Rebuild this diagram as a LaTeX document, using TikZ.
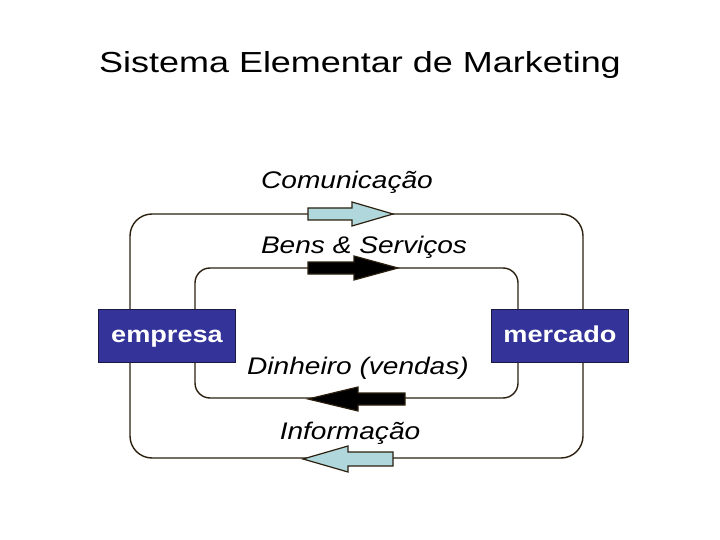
\documentclass[tikz,border=0pt]{standalone}
\usepackage{fontspec}
\setmainfont{Liberation Sans}
\newcommand{\hstretch}[2]{\scalebox{#1}[1]{#2}}
\begin{document}
\begin{tikzpicture}[x=1pt,y=-1pt,
  loop/.style={draw=linec,line width=1.4pt,rounded corners=#1},
  box/.style={draw=boxline,line width=1.2pt,fill=boxblue,text=white,font=\fontsize{23}{26}\selectfont\bfseries,minimum width=137pt,minimum height=53pt,inner sep=0pt,text height=17pt,text depth=5pt},
  lbl/.style={font=\fontsize{24}{28}\selectfont\itshape,inner sep=0pt},
  flowarrow/.style={draw=linec,line width=1.2pt,fill=#1,line join=miter}]
\definecolor{linec}{HTML}{2B2010}
\definecolor{boxblue}{HTML}{333399}
\definecolor{boxline}{HTML}{1A1A40}
\definecolor{lightblue}{HTML}{B0D8DC}
\useasboundingbox (0,0) rectangle (720,540);
\node[font=\fontsize{29}{34}\selectfont] (title) at (360,65) {\hstretch{1.24}{Sistema Elementar de Marketing}};
% loops
\draw[loop=22pt] (130,214) rectangle (583,458);
\draw[loop=15pt] (195,268) rectangle (518,398);
% boxes
\node[box] (emp) at (167,336) {\hstretch{1.18}{empresa}};
\node[box] (mer) at (560,336) {\hstretch{1.18}{mercado}};
% arrows
\filldraw[flowarrow=lightblue] (308,208) -- (352,208) -- (352,202) -- (393,214) -- (352,226) -- (352,220) -- (308,220) -- cycle;
\filldraw[flowarrow=black] (308,262) -- (354,262) -- (354,256) -- (398,268) -- (354,280) -- (354,274) -- (308,274) -- cycle;
\filldraw[flowarrow=black] (405,393) -- (358,393) -- (358,387) -- (308,399) -- (358,411) -- (358,405) -- (405,405) -- cycle;
\filldraw[flowarrow=lightblue] (393,452) -- (348,452) -- (348,446) -- (303,459) -- (348,472) -- (348,466) -- (393,466) -- cycle;
% labels
\node[lbl] (com) at (347,182) {\hstretch{1.17}{Comunicação}};
\node[lbl] (bens) at (364,247) {\hstretch{1.17}{Bens \& Serviços}};
\node[lbl] (din) at (358,368) {\hstretch{1.17}{Dinheiro (vendas)}};
\node[lbl] (inf) at (350,433) {\hstretch{1.17}{Informação}};
\end{tikzpicture}
\end{document}
